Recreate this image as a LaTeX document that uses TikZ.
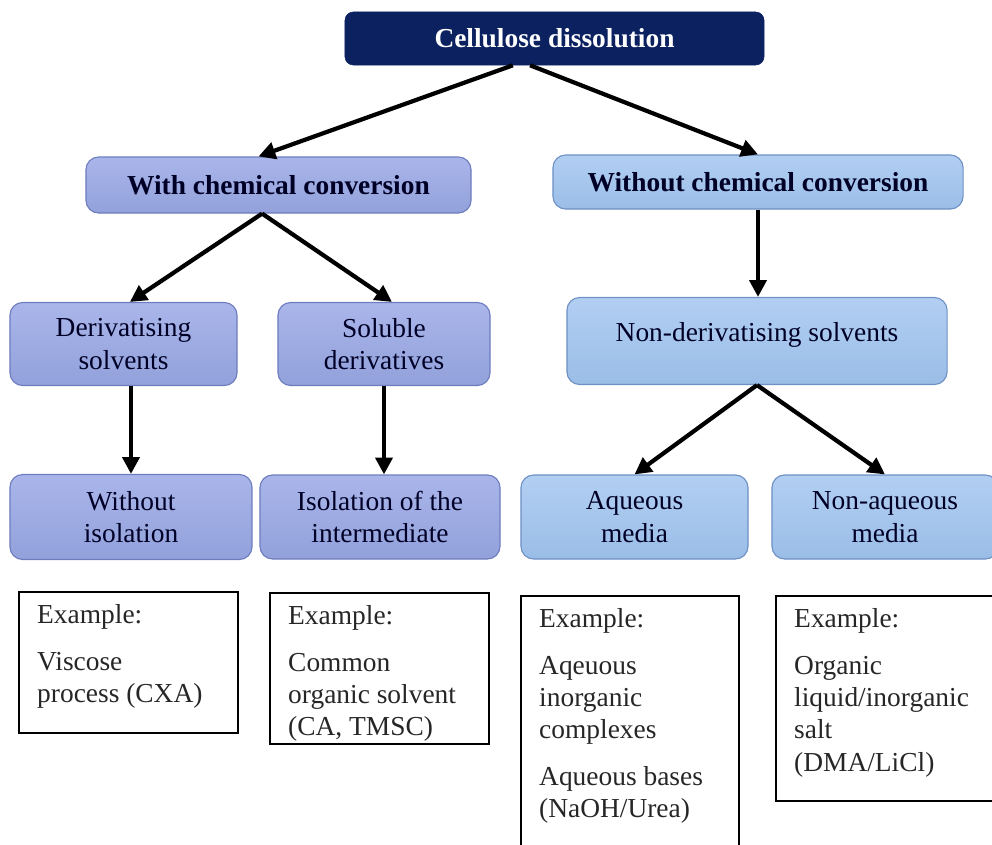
\documentclass[tikz,border=0pt]{standalone}
\usepackage{fontspec}
\setmainfont{Liberation Serif}
\usepackage{tikz}
\usetikzlibrary{arrows.meta,positioning,calc}
\usepackage{xcolor}

\definecolor{navy}{RGB}{12,33,96}
\definecolor{lilac}{RGB}{146,161,219}
\definecolor{lilacTop}{RGB}{170,182,234}
\definecolor{lilacLine}{RGB}{110,124,190}
\definecolor{sky}{RGB}{154,189,231}
\definecolor{skyTop}{RGB}{178,207,242}
\definecolor{skyLine}{RGB}{110,144,196}

\begin{document}
\begin{tikzpicture}[x=0.025cm, y=-0.025cm,
    font=\fontsize{19.5}{23}\selectfont,
    topbox/.style={fill=navy, draw=navy, rounded corners=6pt, text=white,
        font=\fontsize{19.5}{23}\selectfont\bfseries, inner sep=2pt},
    lbox/.style={top color=lilacTop, bottom color=lilac, draw=lilacLine, line width=0.8pt,
        rounded corners=9pt, align=center, inner sep=2pt, text=black!85!blue},
    rbox/.style={top color=skyTop, bottom color=sky, draw=skyLine, line width=0.8pt,
        rounded corners=9pt, align=center, inner sep=2pt, text=black!85!blue},
    exbox/.style={draw, line width=0.8pt, inner xsep=13pt, inner ysep=9pt, text=black!85},
    arr/.style={-{Triangle[length=12pt,width=12pt]}, line width=3pt}]

    \useasboundingbox (0,0) rectangle (992,844);

    % Root
    \node[topbox, minimum width=10.475cm, minimum height=1.325cm] (root) at (554.5, 38.5) {Cellulose dissolution};

    % Second level
    \node[lbox, minimum width=9.625cm, minimum height=1.4cm, font=\fontsize{19.5}{23}\selectfont\bfseries] (withconv) at (278.5, 185) {With chemical conversion};
    \node[rbox, minimum width=10.25cm, minimum height=1.35cm, font=\fontsize{19.5}{23}\selectfont\bfseries] (withoutconv) at (758, 182) {Without chemical conversion};

    % Third level
    \node[lbox, minimum width=5.675cm, minimum height=2.075cm] (deriv) at (123.5, 344) {Derivatising\\solvents};
    \node[lbox, minimum width=5.3cm, minimum height=2.075cm] (soluble) at (384, 344) {Soluble\\derivatives};
    \node[rbox, minimum width=9.5cm, minimum height=2.175cm] (nonderiv) at (757, 341) {Non-derivatising solvents\\[-10pt]\mbox{}};

    % Fourth level
    \node[lbox, minimum width=6.05cm, minimum height=2.125cm] (noiso) at (131, 517) {Without\\isolation};
    \node[lbox, minimum width=6cm, minimum height=2.1cm] (iso) at (380, 517) {Isolation of the\\intermediate};
    \node[rbox, minimum width=5.675cm, minimum height=2.1cm] (aqueous) at (634.5, 517) {Aqueous\\media};
    \node[rbox, minimum width=5.65cm, minimum height=2.1cm] (nonaqueous) at (885, 517) {Non-aqueous\\media};

    % Examples
    \node[exbox] (ex1) at (128.5, 662.5) {\parbox[c][82.3pt][t]{129.8pt}{\raggedright
        Example:\\[10pt] Viscose\\ process (CXA)}};
    \node[exbox] (ex2) at (379.5, 668.5) {\parbox[c][89.4pt][t]{129.8pt}{\raggedright
        Example:\\[10pt] Common\\ organic solvent\\ (CA, TMSC)}};
    \node[exbox] (ex3) at (630, 728) {\parbox[c][169.8pt][t]{129.1pt}{\raggedright
        Example:\\[10pt] Aqeuous\\ inorganic\\ complexes\\[10pt] Aqueous bases\\ (NaOH/Urea)}};
    \node[exbox] (ex4) at (885.5, 698.5) {\parbox[c][127.8pt][t]{129.8pt}{\raggedright
        Example:\\[10pt] Organic\\ liquid/inorganic\\ salt\\ (DMA/LiCl)}};

    % Arrows
    \draw[arr] ([xshift=-1.04cm]root.south) -- ([xshift=-0.5cm]withconv.north);
    \draw[arr] ([xshift=-0.61cm]root.south) -- (withoutconv.north);
    \draw[arr] ([xshift=-0.41cm]withconv.south) -- ([xshift=0.16cm]deriv.north);
    \draw[arr] ([xshift=-0.41cm]withconv.south) -- ([xshift=0.2cm]soluble.north);
    \draw[arr] (withoutconv.south) -- (withoutconv.south |- nonderiv.north);
    \draw[arr] (noiso.north |- deriv.south) -- (noiso.north);
    \draw[arr] (soluble.south) -- (soluble.south |- iso.north);
    \draw[arr] (nonderiv.south) -- (aqueous.north);
    \draw[arr] (nonderiv.south) -- (nonaqueous.north);
\end{tikzpicture}
\end{document}
